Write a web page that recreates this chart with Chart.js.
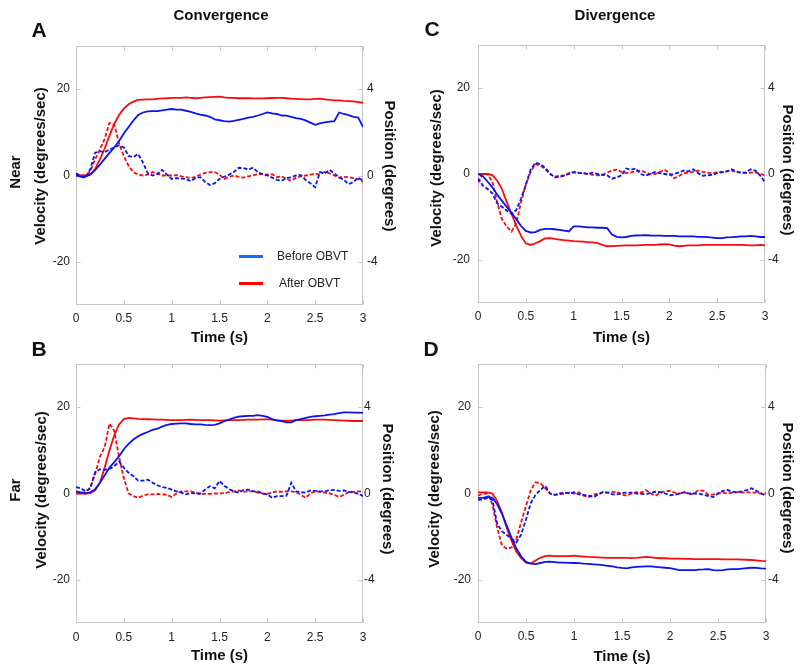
<!DOCTYPE html>
<html><head><meta charset="utf-8">
<script src="https://cdn.jsdelivr.net/npm/chart.js@4.4.0/dist/chart.umd.min.js"></script>
<style>
html,body{margin:0;padding:0;background:#fff;}
#wrap{position:relative;width:800px;height:672px;overflow:hidden;font-family:Arial,"Liberation Sans",sans-serif;}
canvas{position:absolute;}
.lbl{position:absolute;white-space:nowrap;font-weight:bold;color:#111;line-height:1;}
.leg{position:absolute;white-space:nowrap;color:#222;font-size:12px;line-height:1;transform:translateY(-50%);}
.bar{position:absolute;width:24px;height:3px;}
</style></head><body>
<div id="wrap">
<canvas id="cA" width="400" height="350" style="left:0;top:0"></canvas>
<canvas id="cB" width="400" height="336" style="left:0;top:336px"></canvas>
<canvas id="cC" width="400" height="350" style="left:400px;top:0"></canvas>
<canvas id="cD" width="400" height="336" style="left:400px;top:336px"></canvas>
</div>
<script>
// ---- data ----
const times = [0,0.05,0.1,0.15,0.2,0.25,0.3,0.35,0.4,0.45,0.5,0.55,0.6,0.65,0.7,0.75,0.8,0.85,0.9,0.95,1,1.05,1.1,1.15,1.2,1.25,1.3,1.35,1.4,1.45,1.5,1.55,1.6,1.65,1.7,1.75,1.8,1.85,1.9,1.95,2,2.05,2.1,2.15,2.2,2.25,2.3,2.35,2.4,2.45,2.5,2.55,2.6,2.65,2.7,2.75,2.8,2.85,2.9,2.95,3];
const timeTicks = [0,0.5,1,1.5,2,2.5,3];
const velTicks = [-20,0,20];
const posTicks = [-4,0,4];
const seriesNames = ['Before OBVT','After OBVT'];

// A: Near / Convergence
const nearConvBeforeVel = [0.5,-0.3,-0.5,1.5,5.3,5.6,5.4,6.0,6.5,7.0, 6.5,4.5,4.3,5.0,3.0,0.5,0.0,0.3,1.3,0.2, -0.8,-0.6,-0.7,-0.8,-1.3,-0.6,-0.4,-1.5,-2.2,-1.8, -0.8,-0.3,0.2,0.8,1.8,1.7,1.4,1.8,0.8,0.3, 0.0,-0.5,-1.0,-1.2,-0.6,-0.4,0.0,0.1,-1.0,-1.8, -2.7,0.8,0.5,1.3,0.5,-0.4,-1.0,-2.0,-1.5,-0.5, -1.2];
const nearConvAfterVel = [0.5,0.0,0.0,1.0,3.8,6.0,8.5,12.2,11.8,7.5, 4.5,2.2,0.8,0.2,0.0,0.2,0.8,0.5,0.0,0.0, 0.0,0.1,-0.2,-0.4,-0.6,-0.3,0.2,0.6,0.8,0.8, 0.2,-0.8,-0.3,0.0,-0.3,-0.5,-0.2,0.0,0.3,0.3, 0.2,0.3,-0.4,-0.2,-0.8,-1.2,-0.5,-0.2,0.0,0.2, 0.4,0.3,0.8,0.5,0.0,-0.5,-0.3,-0.4,-0.6,-0.8, -1.5];
const nearConvBeforePos = [0.0,-0.05,-0.05,0.05,0.25,0.5,0.78,1.05,1.3,1.6, 1.95,2.25,2.55,2.8,2.92,2.97,2.98,2.98,3.02,3.05, 3.08,3.05,3.05,3.0,2.95,2.88,2.82,2.78,2.72,2.6, 2.56,2.52,2.5,2.53,2.58,2.62,2.68,2.72,2.78,2.85, 2.92,2.88,2.85,2.78,2.77,2.72,2.66,2.62,2.55,2.45, 2.35,2.42,2.46,2.5,2.52,2.92,2.85,2.8,2.72,2.68, 2.25];
const nearConvAfterPos = [0.05,0.0,0.0,0.05,0.3,0.75,1.25,1.85,2.4,2.8, 3.1,3.3,3.42,3.5,3.52,3.53,3.53,3.55,3.57,3.58, 3.6,3.6,3.6,3.62,3.6,3.58,3.6,3.62,3.63,3.64, 3.65,3.62,3.6,3.6,3.58,3.58,3.58,3.57,3.57,3.57, 3.58,3.59,3.6,3.6,3.58,3.56,3.55,3.54,3.53,3.53, 3.55,3.56,3.53,3.5,3.48,3.48,3.46,3.45,3.43,3.4, 3.37];

// B: Far / Convergence
const farConvBeforeVel = [1.5,1.2,0.5,1.2,5.0,5.6,5.5,5.7,6.3,7.4, 6.0,4.8,4.0,3.0,3.0,3.2,2.5,1.9,1.5,1.3, 0.9,0.5,0.2,-0.2,0.1,0.0,0.0,0.9,1.7,1.2, 2.9,1.8,1.0,0.5,0.2,0.8,0.9,0.5,0.5,0.0, -0.2,-1.0,-0.6,-0.6,-0.5,2.5,0.5,0.3,0.2,0.7, 0.6,0.5,0.5,0.8,0.8,0.6,0.7,0.4,0.2,0.0, -0.6];
const farConvAfterVel = [0.3,0.2,0.2,1.5,4.5,8.5,10.8,16.2,14.5,8.5, 3.5,0.0,-0.6,-1.0,-0.5,-0.2,-0.2,-0.1,-0.2,-0.3, -0.8,0.0,0.5,0.5,0.5,0.2,-0.2,-0.1,-0.1,0.0, 0.0,0.1,0.3,0.5,0.7,0.4,0.5,0.5,0.2,0.0, -0.1,0.2,0.5,0.4,0.5,0.5,0.3,-0.3,-1.0,0.0, 0.5,0.4,0.2,0.0,-0.3,-0.8,-0.3,0.3,0.4,0.5, 0.5];
const farConvBeforePos = [0.1,0.05,0.0,0.05,0.2,0.5,0.85,1.2,1.45,1.73, 2.05,2.3,2.5,2.65,2.76,2.85,2.95,3.0,3.1,3.18, 3.22,3.24,3.25,3.25,3.22,3.2,3.2,3.18,3.17,3.18, 3.25,3.35,3.42,3.5,3.56,3.58,3.6,3.6,3.63,3.6, 3.55,3.45,3.38,3.35,3.3,3.3,3.4,3.45,3.5,3.55, 3.58,3.6,3.62,3.65,3.68,3.72,3.76,3.76,3.75,3.75, 3.74];
const farConvAfterPos = [0.0,0.0,0.0,0.02,0.15,0.5,1.2,2.0,2.7,3.2, 3.45,3.5,3.48,3.46,3.45,3.44,3.43,3.42,3.42,3.41, 3.4,3.4,3.4,3.41,3.42,3.41,3.4,3.4,3.4,3.39, 3.38,3.39,3.4,3.4,3.4,3.41,3.42,3.42,3.42,3.43, 3.43,3.42,3.4,3.38,3.37,3.38,3.4,3.4,3.4,3.41, 3.42,3.42,3.42,3.41,3.4,3.39,3.38,3.37,3.36,3.36, 3.36];

// C: Near / Divergence
const nearDivBeforeVel = [-1.0,-2.7,-3.5,-4.5,-6.8,-7.6,-8.5,-9.3,-8.4,-5.7, -2.5,1.0,2.6,2.3,1.5,0.2,-0.8,-0.7,-0.4,0.0, 0.5,0.3,0.2,0.0,0.3,0.0,-0.2,-0.3,-1.1,-0.8, -0.3,1.3,1.0,1.3,0.0,-0.4,0.0,0.5,0.2,0.0, -0.2,0.0,0.4,0.8,0.6,1.1,0.2,-0.4,-0.3,-0.2, 0.2,0.4,0.6,1.1,0.6,0.3,0.4,1.1,0.8,-0.4, -1.9];
const nearDivAfterVel = [-2.0,0.0,0.0,-1.8,-6.5,-10.5,-12.2,-13.4,-11.5,-6.5, -2.5,0.5,2.3,2.0,1.2,0.0,-0.6,-0.4,-0.3,0.2, 0.4,0.2,0.2,0.0,-0.2,-0.3,-0.2,0.3,0.8,1.0, 0.5,0.2,0.4,0.6,0.8,0.4,0.0,0.0,0.5,1.0, 0.2,-1.0,-0.5,0.2,0.3,0.5,0.8,0.5,0.3,0.2, 0.4,0.5,0.6,0.8,0.5,0.3,0.2,0.3,0.4,0.0, -0.3];
const nearDivBeforePos = [0.0,-0.1,-0.35,-0.62,-0.95,-1.25,-1.53,-1.8,-2.1,-2.42, -2.65,-2.72,-2.7,-2.6,-2.55,-2.55,-2.57,-2.6,-2.63,-2.67, -2.44,-2.44,-2.46,-2.48,-2.48,-2.5,-2.5,-2.52,-2.82,-2.92, -2.95,-2.93,-2.88,-2.86,-2.85,-2.84,-2.86,-2.87,-2.87,-2.88, -2.88,-2.88,-2.9,-2.9,-2.9,-2.9,-2.92,-2.92,-2.94,-2.96, -2.98,-2.98,-2.95,-2.94,-2.92,-2.9,-2.9,-2.88,-2.9,-2.93, -2.93];
const nearDivAfterPos = [0.0,0.0,0.0,-0.05,-0.3,-0.7,-1.3,-1.85,-2.4,-2.88, -3.22,-3.3,-3.22,-3.12,-3.0,-2.98,-3.02,-3.05,-3.08,-3.1, -3.12,-3.13,-3.15,-3.17,-3.18,-3.22,-3.3,-3.36,-3.35,-3.34, -3.33,-3.32,-3.32,-3.32,-3.31,-3.3,-3.3,-3.3,-3.28,-3.26, -3.27,-3.33,-3.36,-3.34,-3.32,-3.32,-3.32,-3.3,-3.3,-3.3, -3.3,-3.3,-3.3,-3.3,-3.3,-3.3,-3.31,-3.32,-3.32,-3.3, -3.32];

// D: Far / Divergence
const farDivBeforeVel = [-1.5,-1.4,-1.0,-1.5,-7.0,-8.8,-9.6,-10.5,-11.3,-9.5, -6.0,-2.2,-0.3,0.8,1.8,0.0,-0.3,0.0,0.2,0.0, 0.3,-0.2,-0.3,-0.5,-0.8,-0.3,0.3,0.2,-0.2,-0.2, 0.1,0.2,0.2,0.0,-0.1,-0.2,0.2,0.4,0.3,0.0, -0.4,-0.3,0.0,0.3,0.0,0.0,0.0,-0.3,-0.6,-0.8, 0.0,0.6,0.8,0.4,0.3,0.5,0.8,1.2,0.6,0.0, -0.5];
const farDivAfterVel = [-0.5,0.0,0.0,-2.5,-8.0,-12.0,-12.8,-12.5,-10.5,-6.6, -2.8,0.8,2.6,2.4,1.2,0.0,-0.3,-0.2,0.0,0.2, 0.0,0.3,-0.5,-0.8,-0.3,0.0,0.3,0.2,0.3,0.4, -0.3,-0.5,0.0,0.3,0.2,0.8,0.0,-0.5,0.2,0.5, 0.6,0.2,0.0,0.3,-0.2,0.0,0.8,0.6,-0.3,-0.2, 0.0,0.2,0.0,0.2,0.3,0.2,0.3,0.2,0.2,0.0, 0.0];
const farDivBeforePos = [-0.2,-0.2,-0.15,-0.2,-0.5,-0.95,-1.5,-2.05,-2.55,-2.92, -3.17,-3.25,-3.27,-3.22,-3.17,-3.16,-3.18,-3.2,-3.2,-3.21, -3.22,-3.23,-3.25,-3.26,-3.28,-3.3,-3.32,-3.35,-3.38,-3.42, -3.45,-3.47,-3.42,-3.4,-3.39,-3.38,-3.38,-3.4,-3.42,-3.44, -3.46,-3.5,-3.55,-3.55,-3.55,-3.55,-3.53,-3.52,-3.5,-3.55, -3.56,-3.55,-3.52,-3.5,-3.5,-3.48,-3.46,-3.44,-3.45,-3.47, -3.48];
const farDivAfterPos = [0.05,0.05,0.05,0.0,-0.35,-0.9,-1.6,-2.2,-2.7,-3.0, -3.2,-3.24,-3.1,-2.98,-2.9,-2.88,-2.9,-2.9,-2.9,-2.9, -2.88,-2.9,-2.92,-2.94,-2.95,-2.96,-2.97,-2.98,-2.98,-2.98, -2.98,-2.98,-2.99,-2.98,-2.96,-2.94,-2.96,-2.98,-3.0,-3.0, -3.02,-3.02,-3.02,-3.03,-3.03,-3.04,-3.04,-3.04,-3.04,-3.04, -3.04,-3.05,-3.05,-3.05,-3.05,-3.06,-3.07,-3.08,-3.1,-3.12, -3.13];

// ---- drawing ----
const FONT = 'Arial, "Liberation Sans", sans-serif';
const BLUE = '#0a14f0';
const RED = '#fa0a0a';
const GRID = '#c6c6c6';

const boxPlugin = {
  id: 'box',
  beforeDatasetsDraw(chart) {
    const {ctx, chartArea: a, scales} = chart;
    ctx.save();
    ctx.strokeStyle = GRID; ctx.lineWidth = 1;
    const L = Math.round(a.left) + 0.5, R = Math.round(a.right) - 0.5;
    const T = Math.round(a.top) + 0.5, B = Math.round(a.bottom) - 0.5;
    ctx.strokeRect(L, T, R - L, B - T);
    ctx.beginPath();
    timeTicks.forEach(t => {
      const x = Math.round(scales.x.getPixelForValue(t)) + 0.5;
      ctx.moveTo(x, B); ctx.lineTo(x, B - 4);
      ctx.moveTo(x, T); ctx.lineTo(x, T + 4);
    });
    velTicks.forEach(v => {
      const y = Math.round(scales.yv.getPixelForValue(v)) + 0.5;
      ctx.moveTo(L, y); ctx.lineTo(L + 4, y);
      ctx.moveTo(R, y); ctx.lineTo(R - 4, y);
    });
    ctx.stroke();
    ctx.restore();
  }
};

function pts(arr) { return times.map((t, i) => ({x: t, y: arr[i]})); }

function makeChart(id, g, s) {
  const tickFont = {size: 12, family: FONT};
  new Chart(document.getElementById(id), {
    type: 'line',
    data: {datasets: [
      {label: seriesNames[0] + ' velocity', data: pts(s.bv), yAxisID: 'yv', borderColor: BLUE, borderDash: [4, 2]},
      {label: seriesNames[0] + ' position', data: pts(s.bp), yAxisID: 'yp', borderColor: BLUE},
      {label: seriesNames[1] + ' velocity', data: pts(s.av), yAxisID: 'yv', borderColor: RED, borderDash: [4, 2]},
      {label: seriesNames[1] + ' position', data: pts(s.ap), yAxisID: 'yp', borderColor: RED}
    ]},
    options: {
      responsive: false, animation: false, devicePixelRatio: 1,
      layout: {padding: {top: g.top, left: 0, right: 0, bottom: 0}},
      plugins: {legend: {display: false}, tooltip: {enabled: false}},
      elements: {point: {radius: 0}, line: {borderWidth: 1.8, tension: 0, fill: false}},
      scales: {
        x: {type: 'linear', min: 0, max: 3,
          afterBuildTicks: sc => { sc.ticks = timeTicks.map(v => ({value: v})); },
          ticks: {padding: g.xtp, color: '#222', font: tickFont, maxRotation: 0, autoSkip: false, callback: v => String(v)},
          grid: {display: false, drawTicks: false}, border: {display: false},
          title: {display: true, text: 'Time (s)', color: '#111', font: {size: 15, weight: 'bold', family: FONT}, padding: {top: 0, bottom: g.xtb}},
          afterFit: sc => { sc.height = g.xh; }
        },
        yv: {type: 'linear', position: 'left', min: -30, max: 30,
          afterBuildTicks: sc => { sc.ticks = velTicks.map(v => ({value: v})); },
          ticks: {padding: g.ylp, color: '#222', font: tickFont, callback: v => String(v)},
          grid: {display: false, drawTicks: false}, border: {display: false},
          afterFit: sc => { sc.width = g.yl; }
        },
        yp: {type: 'linear', position: 'right', min: -6, max: 6,
          afterBuildTicks: sc => { sc.ticks = posTicks.map(v => ({value: v})); },
          ticks: {padding: g.yrp, color: '#222', font: tickFont, callback: v => String(v)},
          grid: {display: false, drawTicks: false}, border: {display: false},
          afterFit: sc => { sc.width = g.yr; }
        }
      }
    },
    plugins: [boxPlugin]
  });
}

makeChart('cA', {top: 46, yl: 76, yr: 37, xh: 45, xtp: 6, xtb: 3, ylp: 6, yrp: 4},
  {bv: nearConvBeforeVel, av: nearConvAfterVel, bp: nearConvBeforePos, ap: nearConvAfterPos});
makeChart('cB', {top: 28, yl: 76, yr: 37, xh: 49, xtp: 7, xtb: 7, ylp: 6, yrp: 1},
  {bv: farConvBeforeVel, av: farConvAfterVel, bp: farConvBeforePos, ap: farConvAfterPos});
makeChart('cC', {top: 45, yl: 78, yr: 35, xh: 47, xtp: 6, xtb: 3, ylp: 8, yrp: 3},
  {bv: nearDivBeforeVel, av: nearDivAfterVel, bp: nearDivBeforePos, ap: nearDivAfterPos});
makeChart('cD', {top: 28, yl: 78, yr: 34, xh: 49, xtp: 6, xtb: 6, ylp: 7, yrp: 2},
  {bv: farDivBeforeVel, av: farDivAfterVel, bp: farDivBeforePos, ap: farDivAfterPos});

// ---- text labels ----
const wrap = document.getElementById('wrap');
function label(text, x, y, size, rot) {
  const d = document.createElement('div');
  d.className = 'lbl';
  d.textContent = text;
  d.style.left = x + 'px'; d.style.top = y + 'px';
  d.style.fontSize = size + 'px';
  d.style.transform = 'translate(-50%,-50%)' + (rot ? ' rotate(' + rot + 'deg)' : '');
  wrap.appendChild(d);
}
label('Convergence', 221, 14, 15, 0);
label('Divergence', 615, 14, 15, 0);
label('A', 39, 29, 21, 0);
label('B', 39, 348, 21, 0);
label('C', 432, 28, 21, 0);
label('D', 431, 348, 21, 0);
label('Near', 14, 172, 15, -90);
label('Far', 14, 490, 15, -90);
[[39,166],[40,490],[435,168],[433,489]].forEach(p => label('Velocity (degrees/sec)', p[0], p[1], 15, -90));
[[390,166],[388,489],[788,170],[788,488]].forEach(p => label('Position (degrees)', p[0], p[1], 15, 90));

// legend (panel A)
function legend(text, color, x, y, tx) {
  const b = document.createElement('div');
  b.className = 'bar'; b.style.background = color;
  b.style.left = x + 'px'; b.style.top = (y - 1.5) + 'px';
  wrap.appendChild(b);
  const t = document.createElement('div');
  t.className = 'leg'; t.textContent = text;
  t.style.left = tx + 'px'; t.style.top = y + 'px';
  wrap.appendChild(t);
}
legend(seriesNames[0], '#1a66ff', 239, 256, 277);
legend(seriesNames[1], '#ff0000', 239, 283, 279);
</script>
</body></html>
